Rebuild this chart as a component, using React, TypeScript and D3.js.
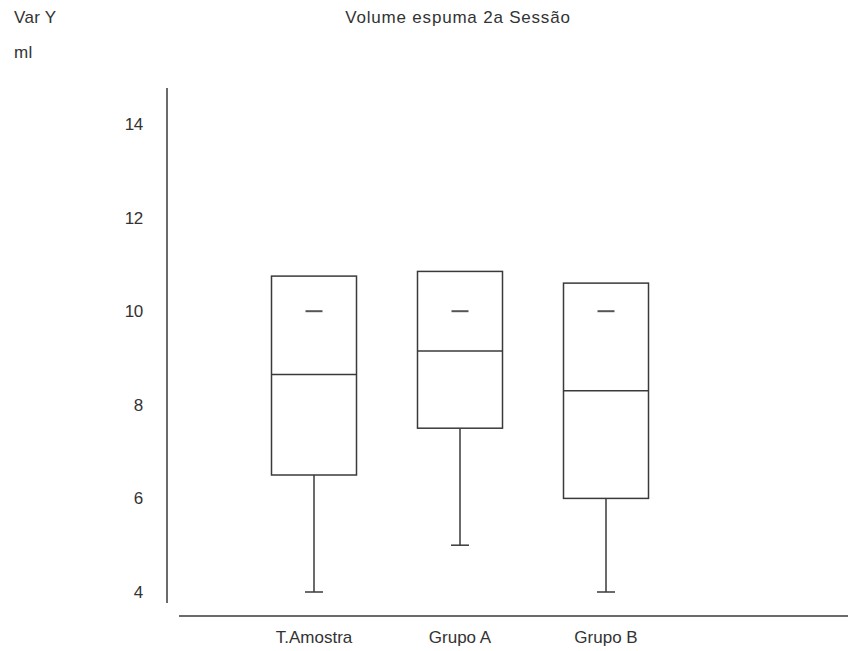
import React from "react";
import * as d3 from "d3";

// Box-plot summary per group (ml)
const categories = ["T.Amostra", "Grupo A", "Grupo B"];
const q1Values = [6.5, 7.5, 6.0];
const medianValues = [8.65, 9.15, 8.3];
const q3Values = [10.75, 10.85, 10.6];
const minValues = [4.0, 5.0, 4.0];
const meanValues = [10.0, 10.0, 10.0];
const yTicks = [4, 6, 8, 10, 12, 14];

const W = 863;
const H = 651;
const FONT = "'Liberation Sans', Arial, sans-serif";
const INK = "#3a3a3a";
const TEXT = "#333";
const LS = 0.3;

export default function App() {
  const y = d3.scaleLinear().domain([4, 14]).range([592, 124]);
  const x = d3.scaleBand<string>().domain(categories).range([241, 679]);
  const bw = x.bandwidth();
  const boxW = 85;
  const capW = 18;
  const meanW = 17;

  const rows = categories.map((c, i) => ({
    c,
    cx: (x(c) as number) + bw / 2,
    q1: q1Values[i],
    med: medianValues[i],
    q3: q3Values[i],
    min: minValues[i],
    mean: meanValues[i],
  }));

  return (
    <svg
      width={W}
      height={H}
      style={{ position: "absolute", left: 0, top: 0, background: "#fff" }}
      fontFamily={FONT}
    >
      <rect width={W} height={H} fill="#fff" />
      {/* titles */}
      <text x={14} y={23} fontSize={17} fill={TEXT} letterSpacing={LS}>
        Var Y
      </text>
      <text x={14} y={58} fontSize={17} fill={TEXT} letterSpacing={LS}>
        ml
      </text>
      <text x={458} y={23} fontSize={17} fill={TEXT} textAnchor="middle" letterSpacing={0.8}>
        Volume espuma 2a Sessão
      </text>

      {/* axes */}
      <line x1={167} x2={167} y1={88} y2={603} stroke={INK} strokeWidth={1.5} />
      <line x1={179} x2={848} y1={616} y2={616} stroke={INK} strokeWidth={1.5} />

      {yTicks.map((t) => (
        <text
          key={t}
          x={143}
          y={y(t) + 6}
          fontSize={17}
          fill={TEXT}
          textAnchor="end"
          letterSpacing={-0.3}
        >
          {t}
        </text>
      ))}

      {rows.map((r) => (
        <g key={r.c} stroke={INK} strokeWidth={1.5} fill="none">
          {/* lower whisker */}
          <line x1={r.cx} x2={r.cx} y1={y(r.q1)} y2={y(r.min)} />
          <line x1={r.cx - capW / 2} x2={r.cx + capW / 2} y1={y(r.min)} y2={y(r.min)} />
          {/* box */}
          <rect x={r.cx - boxW / 2} y={y(r.q3)} width={boxW} height={y(r.q1) - y(r.q3)} />
          {/* median */}
          <line x1={r.cx - boxW / 2} x2={r.cx + boxW / 2} y1={y(r.med)} y2={y(r.med)} />
          {/* mean marker */}
          <line
            x1={r.cx - meanW / 2}
            x2={r.cx + meanW / 2}
            y1={y(r.mean)}
            y2={y(r.mean)}
            strokeWidth={2}
            stroke="#555"
          />
        </g>
      ))}

      {rows.map((r) => (
        <text
          key={r.c}
          x={r.cx}
          y={643}
          fontSize={17}
          fill={TEXT}
          textAnchor="middle"
          letterSpacing={0}
        >
          {r.c}
        </text>
      ))}
    </svg>
  );
}
